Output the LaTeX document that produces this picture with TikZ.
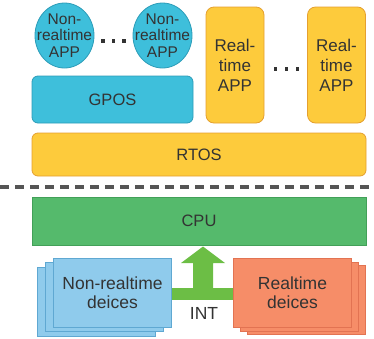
\documentclass[tikz,border=0pt]{standalone}
\usepackage{fontspec}
\setmainfont{Liberation Sans}
\usetikzlibrary{shapes.geometric}

\definecolor{appcyan}{HTML}{3EBFDB}
\definecolor{appcyanline}{HTML}{2C9CB8}
\definecolor{rtyellow}{HTML}{FDCB3C}
\definecolor{rtyellowline}{HTML}{E5A030}
\definecolor{cpugreen}{HTML}{55BA6C}
\definecolor{cpugreenline}{HTML}{42A058}
\definecolor{intgreen}{HTML}{6CBE45}
\definecolor{devblue}{HTML}{8FCBEC}
\definecolor{devblueline}{HTML}{5FA8D2}
\definecolor{devsalmon}{HTML}{F68D68}
\definecolor{devsalmonline}{HTML}{E27352}
\definecolor{textgray}{HTML}{333333}
\definecolor{sepgray}{HTML}{555555}

\tikzset{
  lbl/.style={text=textgray, align=center, inner sep=0pt},
  nrtapp/.style={ellipse, draw=appcyanline, fill=appcyan, line width=0.8pt,
    minimum width=59pt, minimum height=65pt, inner sep=0pt},
  nrtlbl/.style={lbl, font=\fontsize{15.5}{16.5}\selectfont},
  rtapp/.style={rectangle, rounded corners=8pt, draw=rtyellowline, fill=rtyellow,
    line width=0.8pt, minimum width=58pt, minimum height=116pt, lbl,
    font=\fontsize{17}{20}\selectfont},
  layer/.style={rectangle, line width=0.8pt, lbl, font=\fontsize{16.5}{19}\selectfont},
  devbox/.style={rectangle, line width=0.8pt, minimum width=118pt,
    minimum height=69pt, lbl, font=\fontsize{17.5}{19.5}\selectfont},
  dotsq/.style={fill=black!80},
}

\begin{document}
\begin{tikzpicture}[x=1pt, y=-1pt]
  \useasboundingbox (0,0) rectangle (374,338);

  % general-purpose side: apps on top of GPOS
  \node[nrtapp] (nrt1) at (64.5,35.5) {};
  \node[nrtlbl] (nrt1txt) at (nrt1.center) {Non-\\realtime\\APP};
  \node[nrtapp] (nrt2) at (162.5,35.5) {};
  \node[nrtlbl] (nrt2txt) at (nrt2.center) {Non-\\realtime\\APP};
  \foreach \x in {103,113.5,124} \fill[dotsq] (\x-1.7,39.3) rectangle (\x+1.7,42.7);

  \node[layer, rounded corners=6pt, draw=appcyanline, fill=appcyan,
        minimum width=161pt, minimum height=47pt] (gpos) at (112.5,99.5) {GPOS};

  % real-time apps
  \node[rtapp] (rt1) at (235,65) {Real-\\time\\APP};
  \node[rtapp] (rt2) at (336.5,65) {Real-\\time\\APP};
  \foreach \x in {275.5,286.5,297.5} \fill[dotsq] (\x-1.7,67.3) rectangle (\x+1.7,70.7);

  % RTOS layer
  \node[layer, rounded corners=6pt, draw=rtyellowline, fill=rtyellow,
        minimum width=334pt, minimum height=43pt] (rtos) at (199,154.5) {RTOS};

  % software / hardware separator
  \coordinate (sepL) at (0,187);
  \coordinate (sepR) at (374,187);
  \draw[sepgray, line width=4pt, dash pattern=on 9pt off 6pt] (sepL) -- (sepR);

  % CPU
  \node[layer, draw=cpugreenline, fill=cpugreen,
        minimum width=334pt, minimum height=48pt] (cpu) at (199,221) {CPU};

  % interrupt bar and arrow (behind the device stacks)
  \fill[intgreen] (150,288) rectangle (250,300);
  \fill[intgreen] (193,289) -- (193,263) -- (181,263) -- (203,246.5)
                  -- (225,263) -- (213,263) -- (213,289) -- cycle;
  \node[lbl, font=\fontsize{17.5}{19.5}\selectfont, anchor=base] (int) at (204,319) {INT};

  % non-realtime devices (stacked)
  \node[devbox, draw=devblueline, fill=devblue] (nrtdev3) at (96.5,301.5) {};
  \node[devbox, draw=devblueline, fill=devblue] (nrtdev2) at (104.5,297) {};
  \node[devbox, draw=devblueline, fill=devblue] (nrtdev) at (112.5,292.5) {Non-realtime\\deices};

  % realtime devices (stacked)
  \node[devbox, draw=devsalmonline, fill=devsalmon] (rtdev3) at (306.5,300) {};
  \node[devbox, draw=devsalmonline, fill=devsalmon] (rtdev2) at (299.5,296.5) {};
  \node[devbox, draw=devsalmonline, fill=devsalmon] (rtdev) at (292.5,292.5) {Realtime\\deices};
\end{tikzpicture}
\end{document}
